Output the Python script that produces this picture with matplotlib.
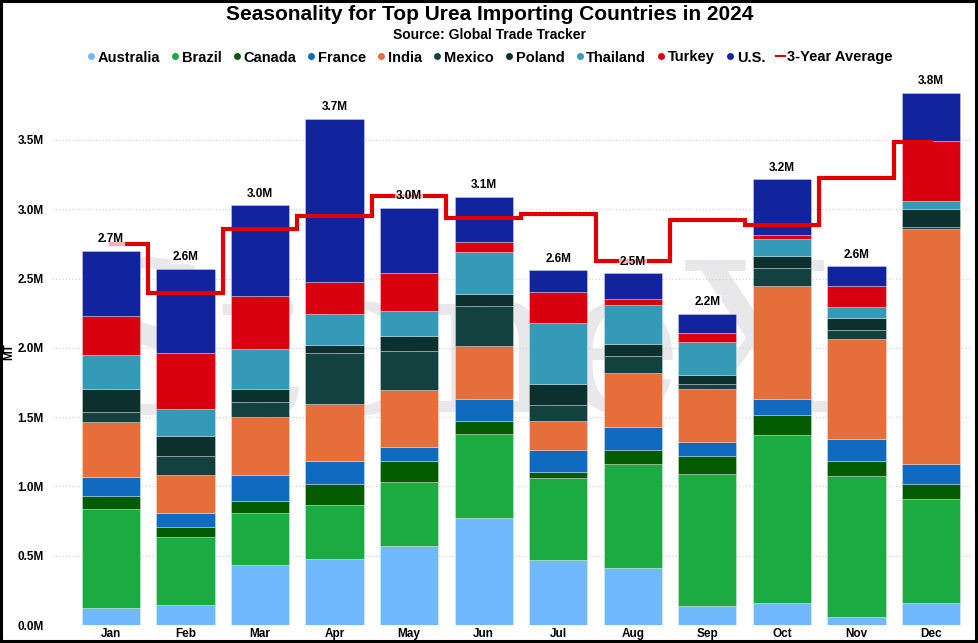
import matplotlib
matplotlib.use("Agg")
import matplotlib.pyplot as plt
from matplotlib.lines import Line2D
from matplotlib.patches import Rectangle
import numpy as np

months = ["Jan", "Feb", "Mar", "Apr", "May", "Jun", "Jul", "Aug", "Sep", "Oct", "Nov", "Dec"]
countries = ["Australia", "Brazil", "Canada", "France", "India", "Mexico", "Poland", "Thailand", "Turkey", "U.S."]

australia = [0.120, 0.147, 0.431, 0.476, 0.572, 0.774, 0.466, 0.409, 0.139, 0.159, 0.058, 0.161]
brazil    = [0.720, 0.490, 0.379, 0.390, 0.460, 0.606, 0.595, 0.755, 0.948, 1.212, 1.017, 0.750]
canada    = [0.090, 0.072, 0.082, 0.151, 0.151, 0.092, 0.040, 0.099, 0.135, 0.146, 0.106, 0.106]
france    = [0.135, 0.097, 0.188, 0.164, 0.099, 0.156, 0.162, 0.166, 0.101, 0.111, 0.161, 0.142]
india     = [0.400, 0.274, 0.419, 0.411, 0.411, 0.388, 0.209, 0.387, 0.382, 0.820, 0.721, 1.700]
mexico    = [0.070, 0.139, 0.108, 0.370, 0.284, 0.288, 0.117, 0.125, 0.035, 0.130, 0.068, 0.016]
poland    = [0.165, 0.145, 0.096, 0.056, 0.110, 0.087, 0.148, 0.086, 0.066, 0.087, 0.086, 0.124]
thailand  = [0.250, 0.192, 0.291, 0.226, 0.176, 0.300, 0.444, 0.280, 0.238, 0.120, 0.077, 0.062]
turkey    = [0.280, 0.409, 0.382, 0.229, 0.279, 0.075, 0.219, 0.045, 0.065, 0.031, 0.150, 0.431]
us        = [0.470, 0.606, 0.654, 1.180, 0.469, 0.322, 0.161, 0.185, 0.135, 0.400, 0.144, 0.349]

three_year_avg = [2.749, 2.398, 2.860, 2.951, 3.095, 2.939, 2.963, 2.626, 2.922, 2.888, 3.227, 3.487]

colors = ["#70b9ff", "#1caa42", "#055c00", "#0f6ac0", "#e66e3a",
          "#124140", "#0b302e", "#3599b8", "#d9000f", "#12239e"]
line_color = "#e00000"

series = [australia, brazil, canada, france, india, mexico, poland, thailand, turkey, us]

W, H = 979, 643
fig = plt.figure(figsize=(W / 100, H / 100), dpi=100)
fig.patch.set_facecolor("white")

ax_left, ax_right = 52, 972
ax_bottom, ax_top = 625, 84.5
ax = fig.add_axes([ax_left / W, 1 - ax_bottom / H, (ax_right - ax_left) / W, (ax_bottom - ax_top) / H])

x = np.arange(len(months))
bw = 0.78

# watermark
ax.text(4.6, 1.95, "StoneX", fontsize=150, color="#e8e8ea", ha="center", va="center",
        family="DejaVu Serif", zorder=0.5)

bottom = np.zeros(len(months))
for name, vals, c in zip(countries, series, colors):
    v = np.array(vals)
    ax.bar(x, v, bw, bottom=bottom, color=c, label=name, zorder=2,
           edgecolor=(1, 1, 1, 0.35), linewidth=0.6)
    bottom += v

totals = bottom
ax.step(x, three_year_avg, where="mid", color=line_color, lw=3.0, zorder=3,
        solid_joinstyle="miter")

for xi, t in zip(x, totals):
    ax.annotate(f"{t:.1f}M", (xi, t), xytext=(0, 4), textcoords="offset points",
                ha="center", va="bottom", fontsize=8.5, fontweight="bold",
                family="Liberation Sans", zorder=5,
                bbox=dict(boxstyle="square,pad=0.1", fc="white", ec="none", alpha=0.7))

ax.set_xlim(-0.79, 11.55)
ax.set_ylim(0, 3.9)
yt = [0, 0.5, 1.0, 1.5, 2.0, 2.5, 3.0, 3.5]
ax.set_yticks(yt)
ax.set_yticklabels([f"{v:.1f}M" for v in yt])
ax.set_xticks(x)
ax.set_xticklabels(months)
for lab in ax.get_xticklabels() + ax.get_yticklabels():
    lab.set_fontweight("bold")
    lab.set_fontsize(8.5)
    lab.set_family("Liberation Sans")
ax.tick_params(axis="both", length=0)
ax.tick_params(axis="y", pad=6)
ax.tick_params(axis="x", pad=2)
ax.grid(axis="y", color="#d0d0d0", linestyle=(0, (1, 2)), linewidth=0.8, zorder=0)
for s in ax.spines.values():
    s.set_visible(False)

fig.text(9 / W, 1 - 352 / H, "MT", rotation=90, ha="center", va="center",
         fontsize=8.5, fontweight="bold", family="Liberation Sans")

# titles
fig.text(0.5, 1 - 15 / H, "Seasonality for Top Urea Importing Countries in 2024",
         ha="center", va="center", fontsize=15, fontweight="bold",
         family=["Liberation Sans Narrow", "Liberation Sans"])
fig.text(0.5, 1 - 35 / H, "Source: Global Trade Tracker",
         ha="center", va="center", fontsize=10, fontweight="bold",
         family=["Liberation Sans Narrow", "Liberation Sans"])

handles = [Line2D([], [], marker="o", linestyle="none", markersize=5, color=c,
                  markeredgewidth=0) for c in colors]
handles.append(Line2D([], [], color=line_color, lw=1.5))
labels = countries + ["3-Year Average"]
leg = fig.legend(handles, labels, loc="center", bbox_to_anchor=(0.5, 1 - 57.5 / H), ncol=11,
                 frameon=False, handlelength=0.6, handletextpad=0.15, columnspacing=0.75,
                 prop=dict(family="Liberation Sans", weight="bold", size=10.5))

# outer border
fig.add_artist(Rectangle((0.001, 0.003), 0.996, 0.995, transform=fig.transFigure,
                         fill=False, ec="black", lw=2.2))

fig.savefig("out.png", dpi=100)
